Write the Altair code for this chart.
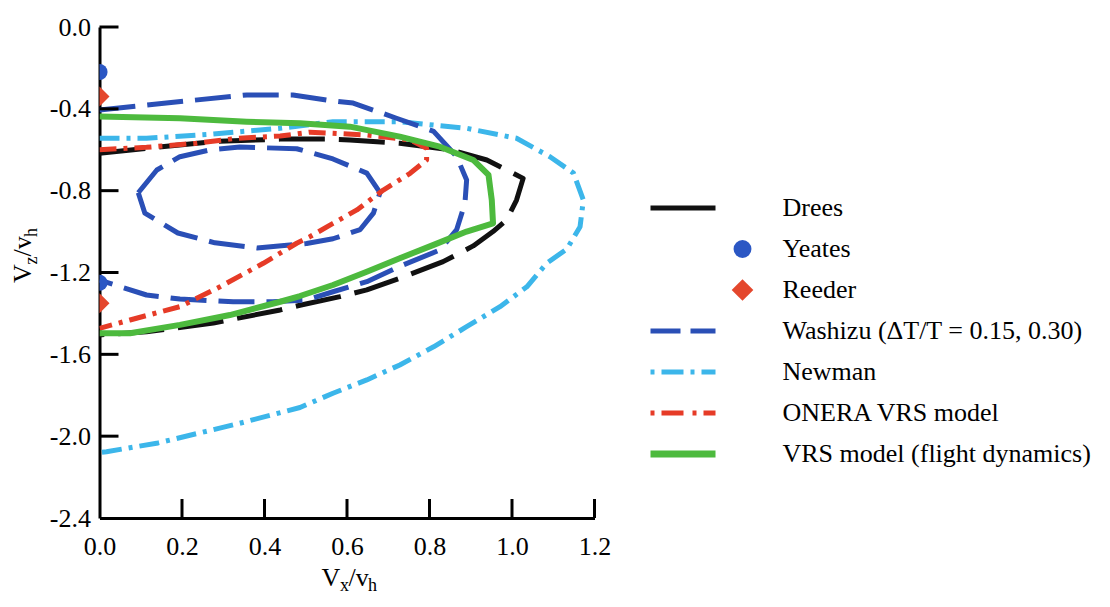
import altair as alt
import pandas as pd

FONT = "Liberation Serif, Times New Roman, Times, DejaVu Serif, serif"

# ---------------- data ----------------
drees_x = [0, 0.114, 0.276, 0.438, 0.559, 0.607, 0.728, 0.85, 0.939, 1.027, 1.011, 0.987, 0.954,
           0.906, 0.833, 0.728, 0.648, 0.583, 0.486, 0.438, 0.276, 0.114, 0]
drees_y = [-0.617, -0.593, -0.56, -0.548, -0.548, -0.552, -0.568, -0.60, -0.65, -0.74, -0.846, -0.943, -1.0,
           -1.07, -1.147, -1.228, -1.285, -1.318, -1.36, -1.383, -1.447, -1.49, -1.505]

yeates_x = [0, 0]
yeates_y = [-0.22, -1.25]

reeder_x = [0, 0]
reeder_y = [-0.34, -1.35]

washizu_outer_x = [0, 0.1, 0.219, 0.357, 0.469, 0.55, 0.615, 0.72, 0.81, 0.866, 0.89, 0.886, 0.866,
                   0.825, 0.728, 0.648, 0.566, 0.502, 0.42, 0.324, 0.195, 0.114, 0]
washizu_outer_y = [-0.406, -0.385, -0.36, -0.332, -0.332, -0.357, -0.372, -0.446, -0.51, -0.634, -0.748, -0.86, -0.99,
                   -1.09, -1.17, -1.245, -1.294, -1.334, -1.343, -1.343, -1.33, -1.31, -1.237]
washizu_inner_x = [0.094, 0.139, 0.195, 0.27, 0.34, 0.478, 0.566, 0.648, 0.68, 0.664, 0.632, 0.566,
                   0.502, 0.382, 0.28, 0.19, 0.11, 0.094]
washizu_inner_y = [-0.81, -0.699, -0.634, -0.6, -0.587, -0.595, -0.645, -0.714, -0.81, -0.91, -0.99, -1.035,
                   -1.058, -1.08, -1.055, -1.007, -0.91, -0.81]

newman_x = [0, 0.114, 0.276, 0.438, 0.566, 0.728, 0.89, 1.011, 1.092, 1.149, 1.173, 1.165, 1.133,
            1.084, 1.036, 0.971, 0.89, 0.81, 0.728, 0.648, 0.566, 0.486, 0.334, 0.142, 0.017, 0]
newman_y = [-0.544, -0.544, -0.523, -0.495, -0.463, -0.463, -0.495, -0.544, -0.634, -0.714, -0.846, -0.976, -1.085,
            -1.155, -1.27, -1.367, -1.465, -1.563, -1.652, -1.725, -1.79, -1.86, -1.94, -2.033, -2.076, -2.08]

onera_x = [0, 0.114, 0.236, 0.333, 0.438, 0.51, 0.648, 0.753, 0.793, 0.793, 0.753, 0.688, 0.624,
           0.566, 0.51, 0.478, 0.397, 0.292, 0.195, 0.074, 0]
onera_y = [-0.60, -0.588, -0.568, -0.544, -0.533, -0.514, -0.528, -0.552, -0.593, -0.65, -0.715, -0.797, -0.894,
           -0.96, -1.025, -1.057, -1.155, -1.27, -1.367, -1.432, -1.473]

vrs_x = [0, 0.195, 0.357, 0.486, 0.607, 0.728, 0.825, 0.906, 0.943, 0.951, 0.954, 0.89, 0.81,
         0.728, 0.648, 0.566, 0.486, 0.438, 0.316, 0.195, 0.074, 0]
vrs_y = [-0.438, -0.446, -0.463, -0.471, -0.487, -0.536, -0.585, -0.65, -0.723, -0.846, -0.96, -1.0, -1.065,
         -1.13, -1.196, -1.261, -1.315, -1.343, -1.408, -1.456, -1.497, -1.497]

x_ticks = [0.0, 0.2, 0.4, 0.6, 0.8, 1.0, 1.2]
y_ticks = [0.0, -0.4, -0.8, -1.2, -1.6, -2.0, -2.4]

legend_names = ["Drees", "Yeates", "Reeder", "Washizu (\u0394T/T = 0.15, 0.30)", "Newman",
                "ONERA VRS model", "VRS model (flight dynamics)"]
COL = {"drees": "#111111", "yeates": "#2b57c4", "reeder": "#e4472d", "washizu": "#2a4fb6",
       "newman": "#3cb6ea", "onera": "#e63b27", "vrs": "#4dba3e"}

# ---------------- layout ----------------
W, H = 495, 491
PAD = {"left": 91.5, "top": 19, "right": 507.5, "bottom": 81}


def line_df(xs, ys, part="a"):
    return pd.DataFrame({"vx": xs, "vz": ys, "ord": list(range(len(xs))), "part": part})


XS = alt.Scale(domain=[0, 1.2], nice=False, zero=False)
YS = alt.Scale(domain=[-2.4, 0], nice=False, zero=False)

LABEL_EXPR = "(datum.value < 0 ? '-' : '') + format(abs(datum.value), '.1f')"

x_axis = alt.Axis(values=x_ticks, labelExpr=LABEL_EXPR, labelFont=FONT, labelFontSize=26, labelColor="black",
                  labelPadding=15, labelFlush=False, ticks=False, domainColor="black", domainWidth=3,
                  grid=False, title=None, labelOverlap=False)
y_axis = alt.Axis(values=y_ticks, labelExpr=LABEL_EXPR, labelFont=FONT, labelFontSize=26, labelColor="black",
                  labelPadding=9, labelFlush=False, ticks=False, domainColor="black", domainWidth=3,
                  grid=False, title=None, labelOverlap=False)

X = alt.X("vx:Q", scale=XS, axis=x_axis)
Y = alt.Y("vz:Q", scale=YS, axis=y_axis)


def curve(df, color, dash, width=5):
    kw = dict(color=color, strokeWidth=width, clip=True, strokeCap="butt", strokeJoin="round")
    if dash:
        kw["strokeDash"] = dash
    return alt.Chart(df).mark_line(**kw).encode(x=X, y=Y, order="ord:Q", detail="part:N")


washizu_df = pd.concat([line_df(washizu_outer_x, washizu_outer_y, "outer"),
                        line_df(washizu_inner_x, washizu_inner_y, "inner")])

layers = [
    curve(line_df(newman_x, newman_y), COL["newman"], [20, 7, 4, 7]),
    curve(line_df(drees_x, drees_y), COL["drees"], [46, 14]),
    curve(washizu_df, COL["washizu"], [36, 12]),
    curve(line_df(onera_x, onera_y), COL["onera"], [17, 7, 4, 7]),
    curve(line_df(vrs_x, vrs_y), COL["vrs"], None, width=6),
    alt.Chart(pd.DataFrame({"vx": yeates_x, "vz": yeates_y})).mark_point(
        shape="circle", filled=True, size=260, color=COL["yeates"], opacity=1, clip=True).encode(x=X, y=Y),
    alt.Chart(pd.DataFrame({"vx": reeder_x, "vz": reeder_y})).mark_point(
        shape="diamond", filled=True, size=400, color=COL["reeder"], opacity=1, clip=True).encode(x=X, y=Y),
]

# inward axis ticks at the tick values
xt = pd.DataFrame({"vx": x_ticks[1:]})
yt = pd.DataFrame({"vz": y_ticks[:-1]})
layers.append(alt.Chart(xt).mark_rule(color="black", strokeWidth=3).encode(
    x=X, y=alt.value(H), y2=alt.value(H - 19)))
layers.append(alt.Chart(yt).mark_rule(color="black", strokeWidth=3).encode(
    y=Y, x=alt.value(0), x2=alt.value(19)))

one = alt.Data(values=[{"k": 1}])


def txt(t, x, y, size=26, angle=0, align="left", baseline="alphabetic"):
    kw = dict(text=t, font=FONT, fontSize=size, color="black", align=align, baseline=baseline)
    if angle:
        kw["angle"] = angle
    return alt.Chart(one).mark_text(**kw).encode(x=alt.value(x), y=alt.value(y))


# x-axis title  V_x / v_h
layers += [txt("V", 222, 559), txt("x", 240.5, 564, size=18),
           txt("/v", 249, 559), txt("h", 268.5, 564, size=18)]
# y-axis title  V_z / v_h (rotated)
layers += [txt("V", -68.5, 256, angle=270), txt("z", -62.5, 237.5, size=18, angle=270),
           txt("/v", -68.5, 229.5, angle=270), txt("h", -62.5, 210, size=18, angle=270)]

# legend (drawn by hand to mirror the reference)
rows = [181, 222, 263, 304, 345, 386, 427]
lx0, lx1, mx, tx = 551, 616, 643, 683
legend_lines = [(0, COL["drees"], None, 5), (3, COL["washizu"], [30, 10], 5),
                (4, COL["newman"], [4, 7, 22, 7], 5), (5, COL["onera"], [4, 7, 22, 9], 5),
                (6, COL["vrs"], None, 7)]
for i, c, d, w in legend_lines:
    kw = dict(color=c, strokeWidth=w, strokeCap="butt")
    if d:
        kw["strokeDash"] = d
    layers.append(alt.Chart(one).mark_rule(**kw).encode(
        x=alt.value(lx0), x2=alt.value(lx1), y=alt.value(rows[i])))
layers.append(alt.Chart(one).mark_point(shape="circle", filled=True, size=320, color=COL["yeates"],
                                        opacity=1).encode(x=alt.value(mx), y=alt.value(rows[1])))
layers.append(alt.Chart(one).mark_point(shape="diamond", filled=True, size=470, color=COL["reeder"],
                                        opacity=1).encode(x=alt.value(mx), y=alt.value(rows[2])))
for i, name in enumerate(legend_names):
    layers.append(txt(name, tx, rows[i], size=26, baseline="middle"))

chart = alt.layer(*layers).properties(
    width=W, height=H, padding=PAD, autosize=alt.AutoSizeParams(type="none"),
    background="white",
).configure_view(stroke=None)

chart.save("out.html", embed_options={"renderer": "svg", "actions": False})
